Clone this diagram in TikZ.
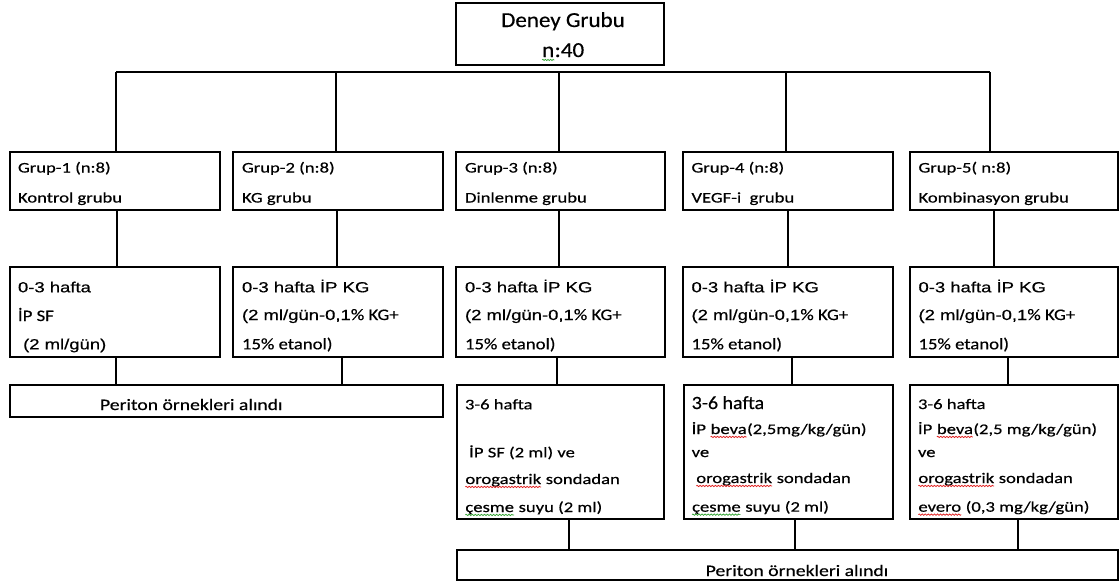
\documentclass[tikz,border=0pt]{standalone}
\usepackage{fontspec}
\setmainfont{Carlito}[FakeBold=0.4]
\newfontfamily\arialf{Liberation Sans}[FakeBold=0.4]
\usepackage{graphicx}
\usetikzlibrary{calc,decorations.pathmorphing}
\definecolor{wred}{RGB}{225,30,30}
\definecolor{wgreen}{RGB}{50,165,50}
\newcommand\C[1]{\scalebox{1.27}[1]{\fontsize{11}{13}\selectfont #1}}
\newcommand\CB[1]{\scalebox{1.17}[1]{\fontsize{12}{14}\selectfont #1}}
\newcommand\A[1]{\scalebox{1.26}[1]{\arialf\fontsize{11}{13}\selectfont #1}}
\newcommand\sq[2]{\tikz[baseline=(sqt.base)]{\node[inner sep=0pt,outer sep=0pt,anchor=base west,draw=none] (sqt) at (0,0) {#2};\draw[#1,line width=0.5pt,decorate,decoration={zigzag,amplitude=0.5pt,segment length=1.8pt}] ([yshift=-2.2pt]sqt.base west) -- ([yshift=-2.2pt]sqt.base east);}}
\newcommand\bx[5]{\node[box, minimum width={(#4-#2)*0.75pt}, minimum height={(#5-#3)*0.75pt}] (#1) at (#2,#3) {};}
\newcommand\vlink[3]{\path ($(#1)+(#3,0)$) coordinate (vl); \draw[conn] (vl) -- (vl |- #2);}
\tikzset{
  box/.style={draw, line width=1.4pt, inner sep=0pt, outer sep=0pt, anchor=north west},
  conn/.style={line width=1pt},
  txt/.style={inner sep=0pt, outer sep=0pt, anchor=base west},
  ctxt/.style={inner sep=0pt, outer sep=0pt, anchor=base},
}
\begin{document}
\begin{tikzpicture}[x=0.75pt,y=-0.75pt]
\useasboundingbox (0,0) rectangle (1120,582);
\fill[white] (0,0) rectangle (1120,582);
% top box
\bx{T}{456}{3}{664}{65}
\node[ctxt] (T1) at (563,27) {\scalebox{1.08}[1]{\fontsize{16}{19}\selectfont Deney Grubu}};
\node[ctxt] (T2) at (563,57) {\scalebox{1.08}[1]{\fontsize{16}{19}\selectfont \sq{wgreen}{n}:40}};
% bus
\coordinate (busL) at (116,72);
\coordinate (busR) at (990,72);
\draw[line width=1.4pt] (busL) -- (busR);
% group boxes
\bx{g1}{10}{152}{220}{210}
\bx{g2}{233}{152}{443}{210}
\bx{g3}{456}{152}{665}{210}
\bx{g4}{683}{152}{893}{210}
\bx{g5}{910}{152}{1118}{210}
\vlink{g1.north}{busL}{1}
\vlink{g2.north}{busL}{-2}
\vlink{g3.north}{busL}{-1.5}
\vlink{g4.north}{busL}{-2}
\vlink{g5.north}{busL}{-24}
\node[txt] (g1a) at (18,172.5) {\C{Grup-1 (n:8)}};
\node[txt] (g1b) at (18,202.5) {\C{Kontrol grubu}};
\node[txt] (g2a) at (242,172.5) {\C{Grup-2 (n:8)}};
\node[txt] (g2b) at (242,202.5) {\C{KG grubu}};
\node[txt] (g3a) at (465,172.5) {\C{Grup-3 (n:8)}};
\node[txt] (g3b) at (465,202.5) {\C{Dinlenme grubu}};
\node[txt] (g4a) at (691.5,172.5) {\C{Grup-4 (n:8)}};
\node[txt] (g4b) at (691.5,202.5) {\C{VEGF-i\ \ grubu}};
\node[txt] (g5a) at (918.5,172.5) {\C{Grup-5( n:8)}};
\node[txt] (g5b) at (918.5,202.5) {\C{Kombinasyon grubu}};
% row 2
\bx{r1}{10}{267}{220}{357}
\bx{r2}{233}{267}{443}{357}
\bx{r3}{456}{267}{665}{357}
\bx{r4}{683}{267}{893}{357}
\bx{r5}{910}{267}{1118}{357}
\vlink{g1.south}{r1.north}{2}
\vlink{g2.south}{r2.north}{-1}
\vlink{g3.south}{r3.north}{-1.5}
\vlink{g4.south}{r4.north}{0}
\vlink{g5.south}{r5.north}{-20}
\node[txt] (r1a) at (18,292.3) {\A{0-3 hafta}};
\node[txt] (r1b) at (18,321) {\CB{İP SF}};
\node[txt] (r1c) at (18,349.3) {\A{\ (2 ml/gün)}};
\node[txt] (r2a) at (242,292.3) {\A{0-3 hafta İP KG}};
\node[txt] (r2b) at (242,320) {\A{(2 ml/gün-0,1}\CB{\% KG+}};
\node[txt] (r2c) at (242,349.3) {\CB{15\% etanol)}};
\node[txt] (r3a) at (465,292.3) {\A{0-3 hafta İP KG}};
\node[txt] (r3b) at (465,320) {\A{(2 ml/gün-0,1}\CB{\% KG+}};
\node[txt] (r3c) at (465,349.3) {\CB{15\% etanol)}};
\node[txt] (r4a) at (691.5,292.3) {\A{0-3 hafta İP KG}};
\node[txt] (r4b) at (691.5,320) {\A{(2 ml/gün-0,1}\CB{\% KG+}};
\node[txt] (r4c) at (691.5,349.3) {\CB{15\% etanol)}};
\node[txt] (r5a) at (918.5,292.3) {\A{0-3 hafta İP KG}};
\node[txt] (r5b) at (918.5,320) {\A{(2 ml/gün-0,1}\CB{\% KG+}};
\node[txt] (r5c) at (918.5,349.3) {\CB{15\% etanol)}};
% left periton
\bx{p1}{10}{385}{443}{417}
\vlink{r1.south}{p1.north}{1}
\vlink{r2.south}{p1.north}{4}
\node[txt] (p1t) at (100,410) {\scalebox{1.23}[1]{\fontsize{12}{14}\selectfont Periton örnekleri alındı}};
% row 3
\bx{s3}{457}{385}{664}{519}
\bx{s4}{684}{385}{893}{519}
\bx{s5}{910}{385}{1118}{519}
\vlink{r3.south}{s3.north}{-3.5}
\vlink{r4.south}{s4.north}{4}
\vlink{r5.south}{s5.north}{-6}
\node[txt] (s3a) at (465,409.3) {\C{3-6 hafta}};
\node[txt] (s3b) at (465,457.3) {\C{\ İP SF (2 ml) ve}};
\node[txt] (s3c) at (465,484) {\C{\sq{wred}{orogastrik} sondadan}};
\node[txt] (s3d) at (465,512) {\C{\sq{wgreen}{çesme} suyu (2 ml)}};
\node[txt] (s4a) at (691.7,409) {\scalebox{1.07}[1]{\fontsize{14}{16}\selectfont 3-6 hafta}};
\node[txt] (s4b) at (691.7,434) {\C{İP \sq{wred}{beva}(2,5mg/kg/gün)}};
\node[txt] (s4c) at (691.7,457) {\C{ve}};
\node[txt] (s4d) at (691.7,483) {\C{\ \sq{wred}{orogastrik} sondadan}};
\node[txt] (s4e) at (691.7,511.7) {\C{\sq{wgreen}{çesme} suyu (2 ml)}};
\node[txt] (s5a) at (918,409) {\C{3-6 hafta}};
\node[txt] (s5b) at (918,434) {\C{İP \sq{wred}{beva}(2,5 mg/kg/gün)}};
\node[txt] (s5c) at (918,457) {\C{ve}};
\node[txt] (s5d) at (918,483) {\C{\sq{wred}{orogastrik} sondadan}};
\node[txt] (s5e) at (918,511.7) {\C{\sq{wred}{evero} (0,3 mg/kg/gün)}};
% bottom periton
\bx{p2}{457}{550}{1118}{580}
\vlink{s3.south}{p2.north}{8.5}
\vlink{s4.south}{p2.north}{6.5}
\vlink{s5.south}{p2.north}{4}
\node[ctxt] (p2t) at (797,576) {\scalebox{1.23}[1]{\fontsize{12}{14}\selectfont Periton örnekleri alındı}};
\end{tikzpicture}
\end{document}
